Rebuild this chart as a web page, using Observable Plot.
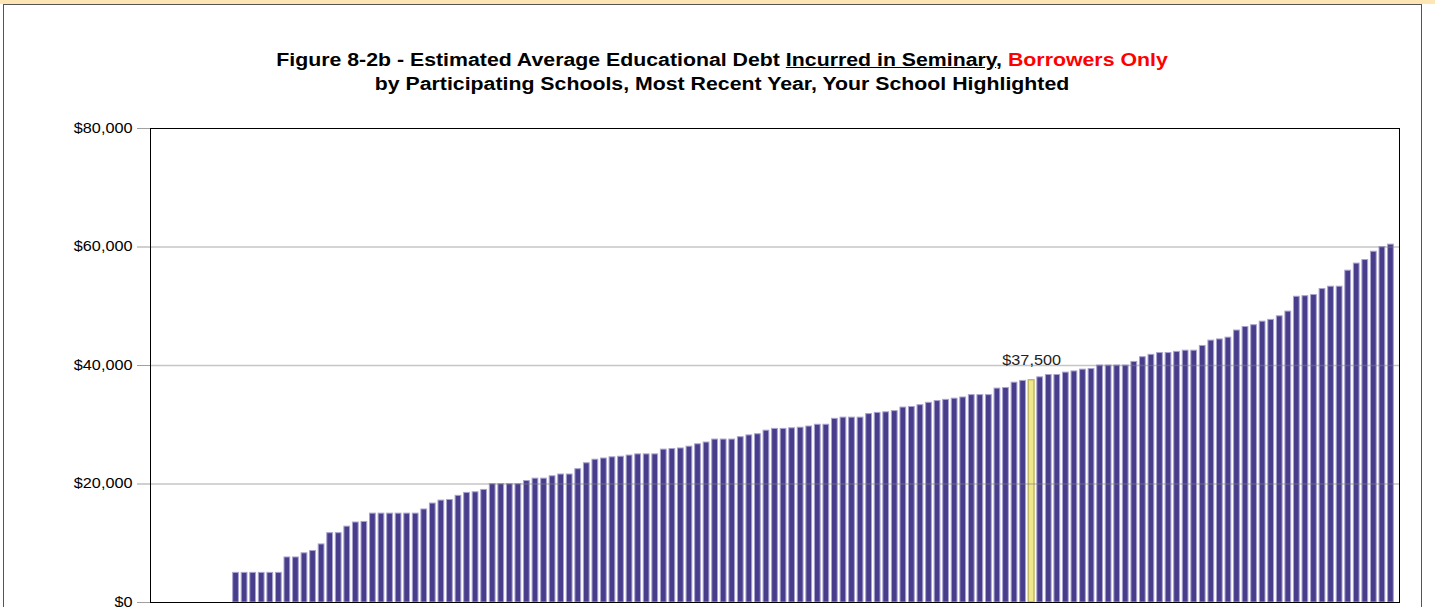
<!DOCTYPE html>
<html>
<head>
<meta charset="utf-8">
<script src="https://cdn.jsdelivr.net/npm/d3@7"></script>
<script src="https://cdn.jsdelivr.net/npm/@observablehq/plot@0.6"></script>
<style>
  html, body { margin: 0; padding: 0; background: #fff; width: 1435px; height: 607px; overflow: hidden;
    font-family: "Liberation Sans", Arial, sans-serif; }
  #topband { position: absolute; left: 0; top: 0; width: 1435px; height: 4px; background: #FDE5B4; }
  #box { position: absolute; left: 3px; top: 4px; width: 1417px; height: 700px; border: 1px solid #555; border-bottom: none; }
  #title { position: absolute; left: 0; top: 48px; width: 1444px; text-align: center; font-weight: bold;
    font-size: 18px; line-height: 24px; color: #000; transform: scaleX(1.183); transform-origin: 722px 0; white-space: nowrap; }
  #title .u { text-decoration: underline; }
  #title .r { color: #ff0000; }
  #chart { position: absolute; left: 0; top: 100px; }
</style>
</head>
<body>
<div id="topband"></div>
<div id="box"></div>
<div id="title"></div>
<div id="chart"></div>
<script>
// ---- data ----
const titleLine1 = [
  {text: "Figure 8-2b - Estimated Average Educational Debt ", cls: ""},
  {text: "Incurred in Seminary", cls: "u"},
  {text: ", ", cls: ""},
  {text: "Borrowers Only", cls: "r"}
];
const titleLine2 = "by Participating Schools, Most Recent Year, Your School Highlighted";

// estimated average debt per participating school, sorted ascending
const debt = [
  5000, 5000, 5000, 5000, 5000, 5000, 7600, 7600, 8300, 8700,
  9800, 11700, 11700, 12800, 13500, 13600, 15000, 15000, 15000, 15000,
  15000, 15000, 15700, 16700, 17200, 17300, 18000, 18500, 18600, 19000,
  20000, 20000, 20000, 20000, 20500, 20900, 20900, 21300, 21600, 21600,
  22500, 23500, 24100, 24300, 24500, 24600, 24800, 25000, 25000, 25000,
  25800, 25900, 26000, 26300, 26700, 27000, 27500, 27500, 27500, 27900,
  28200, 28400, 29000, 29300, 29300, 29400, 29500, 29700, 30000, 30000,
  31000, 31200, 31200, 31200, 31800, 32000, 32100, 32300, 32900, 33000,
  33300, 33700, 34000, 34200, 34400, 34600, 35000, 35000, 35000, 36100,
  36200, 37100, 37400, 37500, 38000, 38400, 38400, 38800, 39000, 39300,
  39400, 40000, 40000, 40000, 40000, 40600, 41400, 41800, 42100, 42100,
  42300, 42500, 42500, 43300, 44200, 44400, 44700, 45900, 46500, 46800,
  47400, 47700, 48300, 49100, 51600, 51700, 51900, 52900, 53300, 53300,
  56000, 57200, 57800, 59200, 60000, 60400
];
const highlightIndex = 93;      // "Your School" (0-based position in debt)
const firstRank = 10;           // schools before this rank report no borrowers
const slotCount = 146;          // total school slots on the x axis
const yTicks = [0, 20000, 40000, 60000, 80000];
const gridTicks = [20000, 40000, 60000];

// ---- colors ----
const barFill = "#483D8B";
const barStroke = "#A9A3CF";
const hlFill = "#F0E68C";
const hlStroke = "#C2B866";

// ---- title ----
const t = document.getElementById("title");
const l1 = document.createElement("div");
titleLine1.forEach(s => {
  const sp = document.createElement("span");
  if (s.cls) sp.className = s.cls;
  sp.textContent = s.text;
  l1.appendChild(sp);
});
const l2 = document.createElement("div");
l2.textContent = titleLine2;
t.appendChild(l1); t.appendChild(l2);

// ---- chart ----
const rows = debt.map((v, i) => ({rank: firstRank + i, value: v, mine: i === highlightIndex}));
const others = rows.filter(d => !d.mine);
const mine = rows.filter(d => d.mine);
const fmt = d3.format("$,");

const svg = Plot.plot({
  width: 1435,
  height: 560,
  marginTop: 28,
  marginBottom: 58,
  marginLeft: 150,
  marginRight: 36,
  style: {fontFamily: "'Liberation Sans', Arial, sans-serif", fontSize: "14px", background: "transparent", color: "#000"},
  x: {domain: [0, slotCount], axis: null},
  y: {domain: [0, 80000], axis: null, label: null},
  marks: [
    Plot.rect(others, {x1: d => d.rank - 0.5, x2: d => d.rank + 0.5, y1: () => 0, y2: "value",
      fill: barFill, stroke: barStroke, strokeWidth: 1, insetLeft: 1.4, insetRight: 1.4}),
    Plot.rect(mine, {x1: d => d.rank - 0.5, x2: d => d.rank + 0.5, y1: () => 0, y2: "value",
      fill: hlFill, stroke: hlStroke, strokeWidth: 1.5, insetLeft: 1.4, insetRight: 1.4}),
    Plot.gridY(gridTicks, {stroke: "#808080", strokeOpacity: 0.45, strokeWidth: 1.5}),
    Plot.frame({stroke: "#000", strokeWidth: 1}),
    Plot.axisY(yTicks, {tickSize: 13, tickPadding: 5, tickFormat: fmt, stroke: "#a0a0a0",
      fontSize: 14, fill: "#000", label: null}),
    Plot.text(mine, {x: "rank", y: "value", text: d => fmt(d.value), dy: -20, fontSize: 14, fill: "#222"})
  ]
});
document.getElementById("chart").appendChild(svg);

// widen glyphs horizontally to match the reference's stretched lettering
function stretch(selector, s) {
  svg.querySelectorAll(selector).forEach(el => {
    const x = +(el.getAttribute("x") || 0);
    const tr = el.getAttribute("transform") || "";
    el.removeAttribute("x");
    el.setAttribute("transform", `${tr} translate(${x},0) scale(${s},1)`);
  });
}
stretch('g[aria-label="y-axis tick label"] text', 1.16);
stretch('g[aria-label="text"] text', 1.16);
</script>
</body>
</html>
